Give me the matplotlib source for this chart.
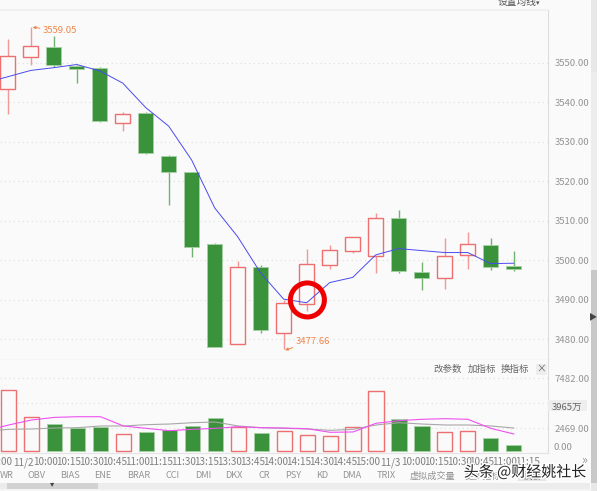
import numpy as np
import matplotlib
matplotlib.use('Agg')
import matplotlib.pyplot as plt
import matplotlib.patheffects as pe
from matplotlib.patches import Rectangle

plt.rcParams['font.family'] = ['Noto Sans CJK SC', 'DejaVu Sans']

# Candles
open_ = [3543.35, 3551.5, 3554.0, 3549.2, 3548.6, 3534.9, 3537.2, 3526.5, 3522.4, 3504.1, 3478.9, 3498.3,
         3481.6, 3488.9, 3498.9, 3502.5, 3501.2, 3510.7, 3497.1, 3495.5, 3501.3, 3503.8, 3498.6]
close = [3551.7, 3554.3, 3549.6, 3548.4, 3535.2, 3537.0, 3527.1, 3522.4, 3503.3, 3478.0, 3498.4, 3482.4,
         3489.2, 3499.1, 3502.7, 3505.9, 3510.7, 3497.3, 3495.5, 3501.2, 3504.1, 3498.3, 3497.9]
high = [3556.0, 3559.05, 3556.8, 3549.4, 3549.0, 3537.6, 3537.5, 3526.7, 3522.5, 3504.5, 3499.8, 3498.9,
        3490.0, 3503.0, 3503.9, 3506.0, 3511.9, 3512.8, 3499.7, 3505.6, 3507.1, 3505.6, 3502.5]
low = [3537.1, 3549.6, 3549.0, 3545.0, 3535.0, 3532.8, 3527.0, 3514.0, 3500.8, 3478.0, 3478.9, 3481.7,
       3477.66, 3487.3, 3497.8, 3501.8, 3496.7, 3496.7, 3492.4, 3492.7, 3497.8, 3497.5, 3497.4]
# Moving average, starts one bar left of the window
ma = [3544.9, 3546.5, 3548.1, 3548.8, 3549.6, 3548.0, 3544.9, 3538.7, 3534.0, 3525.4, 3513.3, 3506.0, 3496.8,
      3490.2, 3489.3, 3494.4, 3495.7, 3501.4, 3503.0, 3502.5, 3502.0, 3502.0, 3499.2, 3499.3]

# Volume
volume = [6300, 3580, 2900, 2500, 2540, 1900, 2040, 2240, 2670, 3500, 2570, 1970,
          2140, 1800, 1700, 2600, 6170, 3370, 2640, 2100, 2200, 1500, 740]
# these two also start one bar left
vol_pink = [2200, 2777, 3280, 3540, 3606, 3606, 2677, 2441, 2206, 2344, 2441, 2607, 2506,
            2474, 2406, 2045, 2078, 2948, 3208, 3348, 3408, 3348, 2441, 1875]
vol_gray = [2150, 2344, 2377, 2474, 2506, 2677, 2677, 2808, 2875, 3008, 3075, 2677, 2506,
            2441, 2377, 2240, 2344, 2777, 3008, 2875, 2777, 2777, 2677, 2474]

time_labels = ['15:00', '11/2', '10:00', '10:15', '10:30', '10:45', '11:00', '11:15', '11:30', '13:15', '13:30',
               '13:45', '14:00', '14:15', '14:30', '14:45', '15:00', '11/3', '10:00', '10:15', '10:30', '10:45',
               '11:00', '11:15']
price_ticks = [3480, 3490, 3500, 3510, 3520, 3530, 3540, 3550]
vol_ticks = [2469, 4975, 7482]
indicators = ['WR', 'OBV', 'BIAS', 'ENE', 'BRAR', 'CCI', 'DMI', 'DKX', 'CR', 'PSY', 'KD', 'DMA', 'TRIX']
indicator_x = [7, 37, 70, 103, 139, 173, 203, 234, 264, 293, 322, 352, 386]

RED = '#ee6f6f'
GREEN = '#3a923a'
BG = '#fafafa'
GRID = '#dddddd'
TXT = '#949494'
W, H = 600, 491


def ftext(x, y, s, **kw):
    # place text by picture pixels
    kw.setdefault('ha', 'center')
    kw.setdefault('va', 'center')
    kw.setdefault('color', '#666666')
    kw.setdefault('fontsize', 7)
    return fig.text(x / W, 1 - y / H, s, **kw)


def frect(x, y, w, h, **kw):
    fig.add_artist(Rectangle((x / W, 1 - (y + h) / H), w / W, h / H, transform=fig.transFigure, lw=0, **kw))


fig = plt.figure(figsize=(6, 4.91), dpi=100, facecolor=BG)

ax = fig.add_axes([0, 1 - 360 / H, 547.5 / W, 350 / H])
vax = fig.add_axes([0, 1 - 453 / H, 547.5 / W, 93 / H])

x = np.arange(len(open_))
xlim = (-0.335, 23.47)

# price panel
for a in (ax, vax):
    a.set_facecolor(BG)
    a.set_xlim(xlim)
    for s in a.spines.values():
        s.set_visible(False)
    a.spines['right'].set_visible(True)
    a.spines['right'].set_color('#dddddd')
    a.spines['right'].set_linewidth(0.8)
    a.grid(True, axis='y', color=GRID, linestyle=(0, (1, 3)), linewidth=0.8)
    a.set_axisbelow(True)

ax.spines['top'].set_visible(True)
ax.spines['top'].set_color('#f0f0f0')
ax.spines['top'].set_linewidth(1.5)
ax.spines['bottom'].set_visible(True)
ax.spines['bottom'].set_color('#e8e8e8')
ax.spines['bottom'].set_linewidth(1.0)

ax.set_ylim(3474.8, 3563.4)
ax.set_yticks(price_ticks)
ax.set_yticklabels([f'{p:.2f}' for p in price_ticks])
ax.yaxis.tick_right()
ax.tick_params(axis='y', length=0, pad=5, labelsize=6.9, labelcolor=TXT)
ax.set_xticks([])

for i in x:
    up = close[i] >= open_[i]
    color = RED if up else GREEN
    ax.vlines(i, low[i], high[i], color=color, linewidth=1.0, alpha=0.7, zorder=2)
    bottom = min(open_[i], close[i])
    height = abs(close[i] - open_[i])
    if up:
        ax.bar(i, height, bottom=bottom, width=0.66, facecolor=BG, edgecolor=color, linewidth=1.0, zorder=3)
    else:
        ax.bar(i, height, bottom=bottom, width=0.66, facecolor=GREEN, edgecolor='#a8d0a8', linewidth=0.6, zorder=3)

ax.plot(np.arange(-1, len(open_)), ma, color='#4a4af0', linewidth=0.7, zorder=4)

# red hand-drawn ring
ax.scatter([13.03], [3490], s=600, facecolors='none', edgecolors='#ee0000', linewidths=3.6, zorder=5)

arrow = dict(arrowstyle='-|>,head_length=0.25,head_width=0.12', color='#f0864a', lw=0.7, shrinkA=0, shrinkB=0)
ax.annotate('3559.05', xy=(1.08, 3559.05), xytext=(1.52, 3558.1), color='#f0864a', fontsize=6.8, va='center',
            arrowprops=arrow, zorder=6)
ax.annotate('3477.66', xy=(12.05, 3477.3), xytext=(12.52, 3479.5), color='#f0864a', fontsize=6.8, va='center',
            arrowprops=arrow, zorder=6)

# volume panel
vol_floor = 170
vax.set_ylim(-30, 9290)
vax.set_yticks(vol_ticks)
vax.set_yticklabels(['2469.00', '', '7482.00'])
vax.yaxis.tick_right()
vax.tick_params(axis='y', length=0, pad=5, labelsize=6.9, labelcolor=TXT)

for i in x:
    h = volume[i] - vol_floor
    if close[i] >= open_[i]:
        vax.bar(i, h, bottom=vol_floor, width=0.66, facecolor=BG, edgecolor=RED, linewidth=1.0, zorder=3)
    else:
        vax.bar(i, h, bottom=vol_floor, width=0.66, facecolor=GREEN, edgecolor='#a8d0a8', linewidth=0.6, zorder=3)

vax.plot(np.arange(-1, len(open_)), vol_gray, color='#a8a8a8', linewidth=0.8, zorder=4)
vax.plot(np.arange(-1, len(open_)), vol_pink, color='#f050f0', linewidth=0.8, zorder=5)

vax.set_xticks(np.arange(-1, 23) + 0.62)
vax.set_xticklabels(time_labels)
vax.tick_params(axis='x', length=0, pad=3, labelsize=7.2, labelcolor='#808080')
vax.spines['bottom'].set_visible(True)
vax.spines['bottom'].set_color('#e4e4e4')
vax.spines['bottom'].set_linewidth(0.8)

# panel furniture around the axes
frect(548, 400, 39, 11, facecolor='#eeeeee', zorder=1)
ftext(567, 407, '3965万', color='#666666', fontsize=6.9, zorder=2)
ftext(553, 447.5, '0.00', ha='left', color=TXT, fontsize=6.9)

ftext(517, 2, '设置均线', color='#555555', fontsize=7)
ftext(538, 3, '▾', color='#555555', fontsize=5)

ftext(448, 369, '改参数', color='#666666', fontsize=6.8)
ftext(482, 369, '加指标', color='#666666', fontsize=6.8)
ftext(515, 369, '换指标', color='#666666', fontsize=6.8)
frect(535.5, 364, 11, 11, facecolor='#eeeeee', edgecolor='#aaaaaa')
ftext(541, 369, '×', color='#666666', fontsize=7)

# bottom tabs
for name, px in zip(indicators, indicator_x):
    ftext(px, 475, name, color=TXT, fontsize=6.6)
ftext(432, 476, '虚拟成交量', color=TXT, fontsize=6.6)
ftext(483, 476, '更多指标', color=TXT, fontsize=6.6)
frect(518, 470, 28, 11, facecolor='#e6e6e6')
ftext(532, 476, '横版', color='#777777', fontsize=6.6)
ftext(584, 460, '»', color='#999999', fontsize=9)

# scrollbars
frect(0, 483, 590, 6, facecolor='#ececec')
frect(7, 483, 91, 6, facecolor='#d2d2d2')
frect(0, 489, 600, 2, facecolor='#f4f4f4')
frect(591, 0, 6, 491, facecolor='#e8e8e8')
frect(591, 72, 6, 198, facecolor='#ededed')
frect(591, 270, 6, 213, facecolor='#c8c8c8')
frect(597, 0, 3, 491, facecolor='#ffffff')
ftext(593.5, 317, '▶', color='#444444', fontsize=6)
ftext(52, 484, '▾', color='#444444', fontsize=6)

# watermark
ftext(525, 472, '头条 @财经姚社长', color='#222222', fontsize=10.8,
      path_effects=[pe.withStroke(linewidth=2, foreground='white')], zorder=10)

fig.savefig('out.png', dpi=100, facecolor=fig.get_facecolor())
plt.close(fig)
